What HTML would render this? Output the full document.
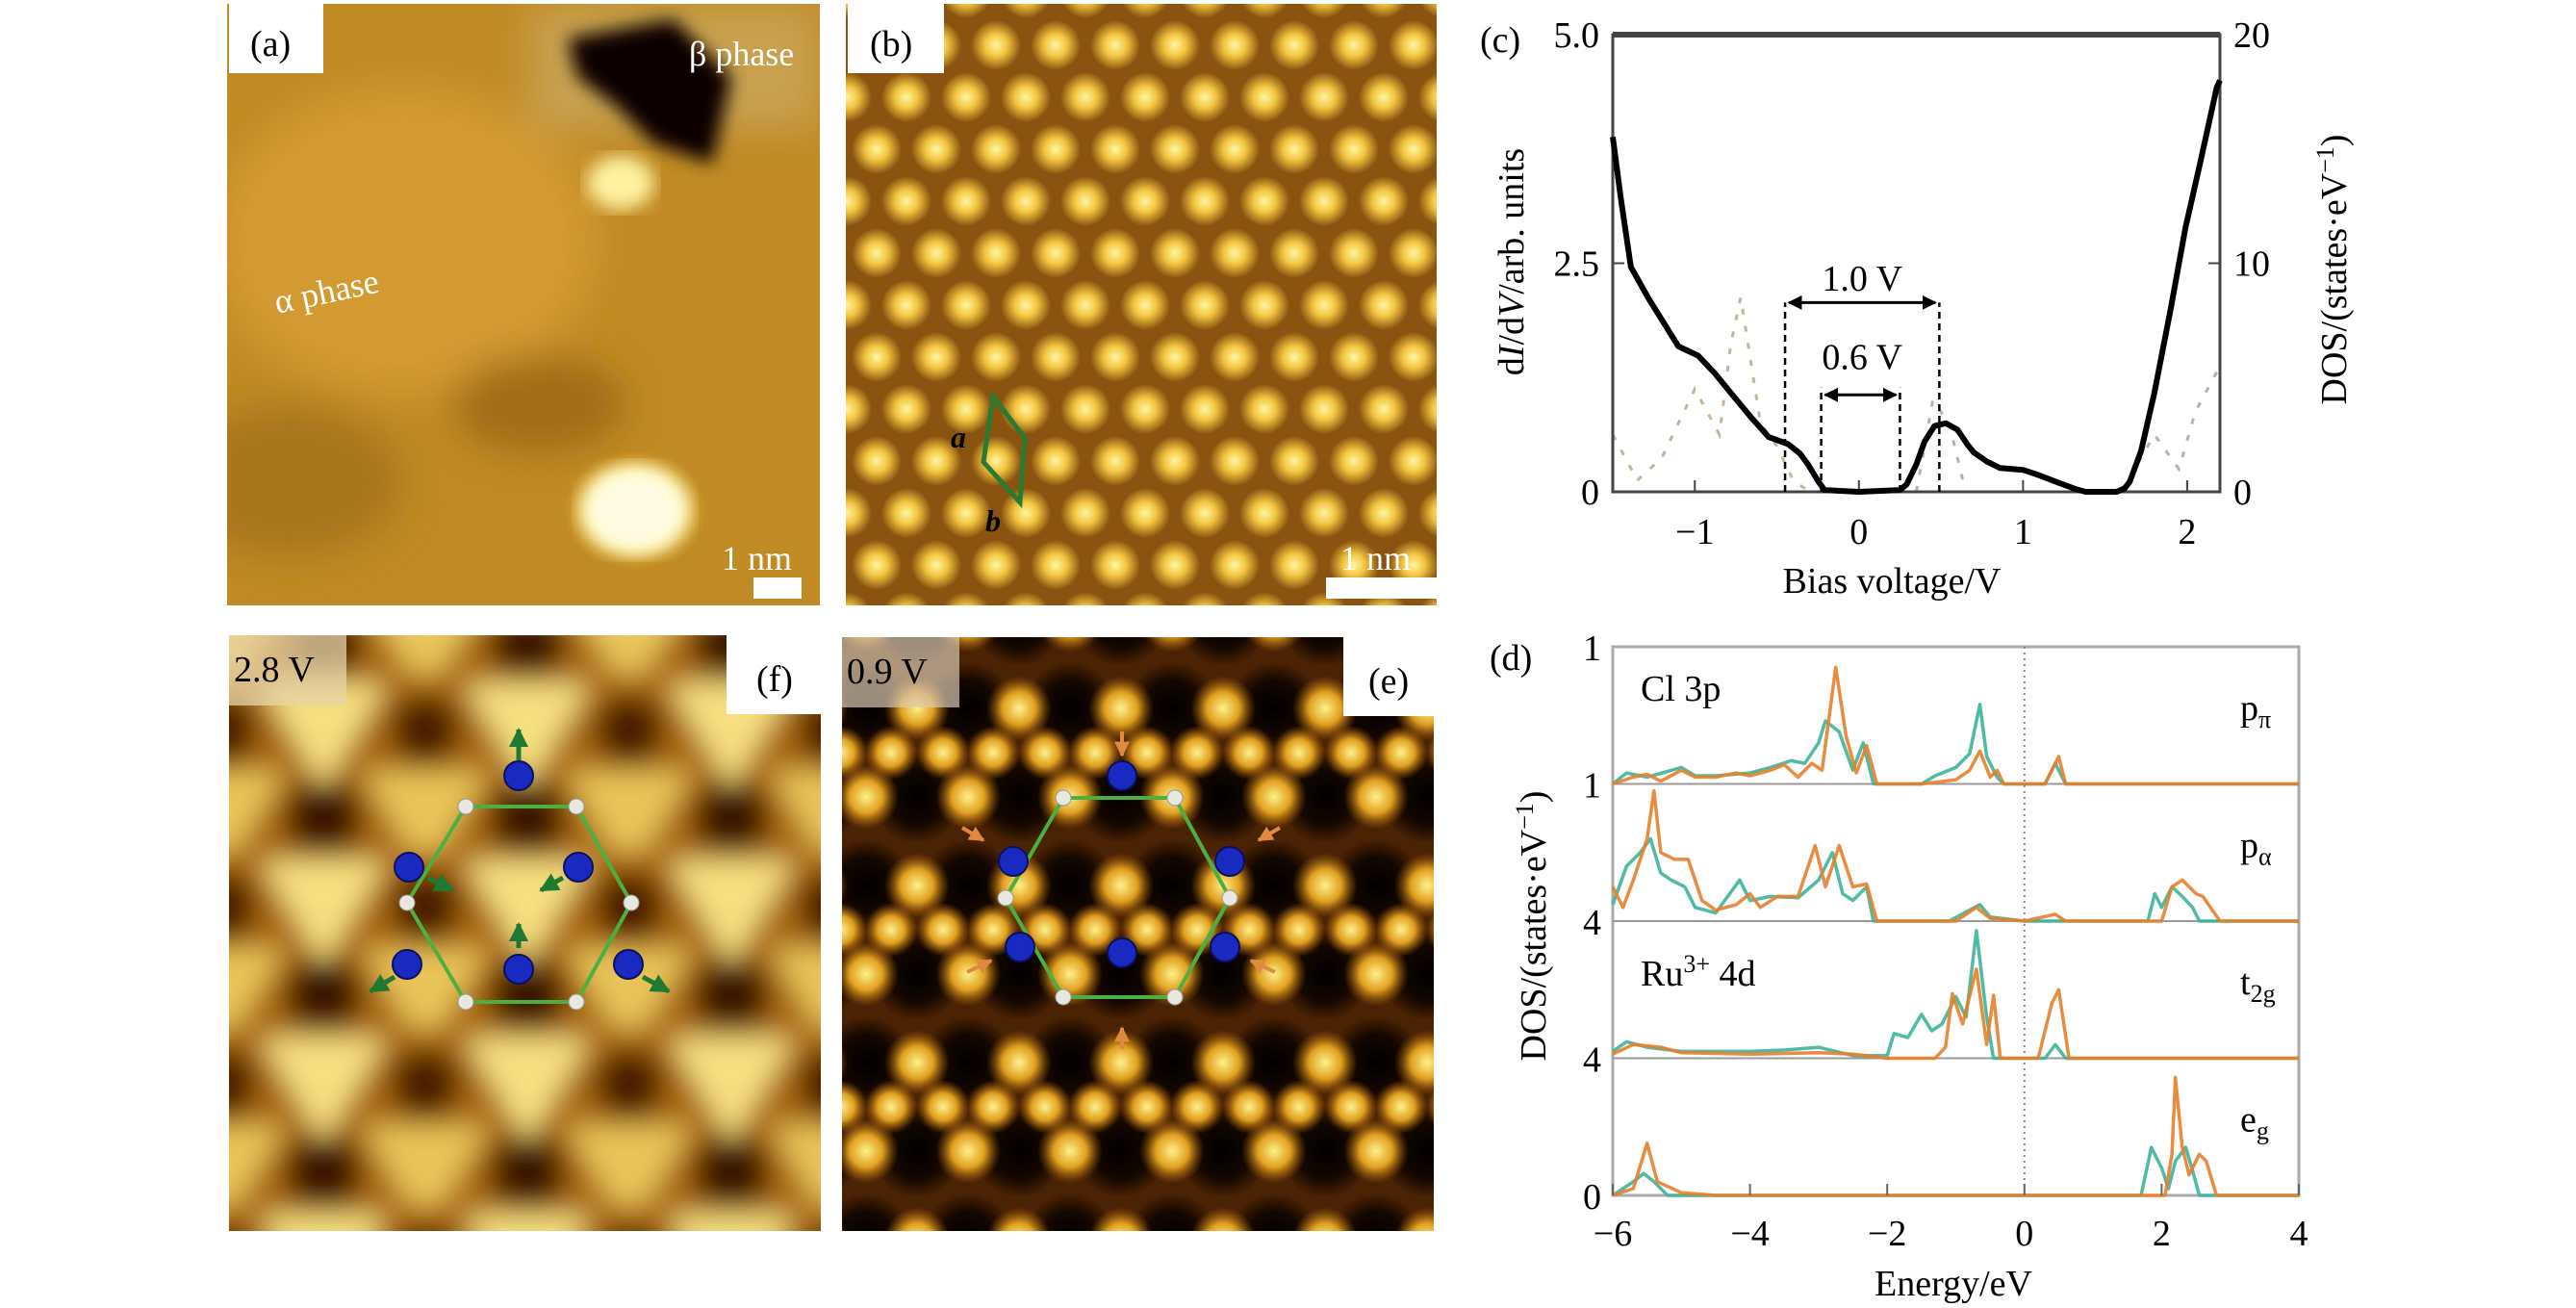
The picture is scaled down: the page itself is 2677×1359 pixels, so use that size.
<!DOCTYPE html>
<html><head><meta charset="utf-8">
<style>
html,body{margin:0;padding:0;background:#fff;}
svg, svg text{font-family:"Liberation Serif","DejaVu Serif",serif;}
</style></head>
<body>
<svg id="fig" width="2677" height="1354" viewBox="0 0 2677 1354" xmlns="http://www.w3.org/2000/svg" font-family="Liberation Serif, serif">
<defs>
  <radialGradient id="dotY" cx="50%" cy="50%" r="50%">
    <stop offset="0" stop-color="#fff6a0"/><stop offset="0.45" stop-color="#f2c440"/><stop offset="1" stop-color="#f2c440" stop-opacity="0"/>
  </radialGradient>
  <radialGradient id="dotE" cx="50%" cy="50%" r="50%">
    <stop offset="0" stop-color="#fff08a"/><stop offset="0.5" stop-color="#e0a020"/><stop offset="1" stop-color="#a05a08" stop-opacity="0"/>
  </radialGradient>
  <radialGradient id="holeE" cx="50%" cy="50%" r="50%">
    <stop offset="0" stop-color="#000"/><stop offset="0.6" stop-color="#140700"/><stop offset="1" stop-color="#140700" stop-opacity="0"/>
  </radialGradient>
  <radialGradient id="brightA" cx="50%" cy="50%" r="50%">
    <stop offset="0" stop-color="#fffde0"/><stop offset="0.55" stop-color="#fff070"/><stop offset="1" stop-color="#e8b840" stop-opacity="0"/>
  </radialGradient>
  <pattern id="latB" width="62" height="108" patternUnits="userSpaceOnUse" x="880" y="20">
    <rect width="62" height="108" fill="#8a5410"/>
    <circle cx="31" cy="27" r="26" fill="url(#dotY)"/>
    <circle cx="0" cy="81" r="26" fill="url(#dotY)"/>
    <circle cx="62" cy="81" r="26" fill="url(#dotY)"/>
  </pattern>
  <pattern id="latE" width="106" height="184" patternUnits="userSpaceOnUse" x="900" y="690">
    <rect width="106" height="184" fill="#4a2204"/>
    <circle cx="53" cy="138" r="48" fill="url(#holeE)"/>
    <circle cx="0" cy="46" r="48" fill="url(#holeE)"/>
    <circle cx="106" cy="46" r="48" fill="url(#holeE)"/>
    <circle cx="53" cy="46" r="34" fill="url(#dotE)"/>
    <circle cx="0" cy="138" r="34" fill="url(#dotE)"/>
    <circle cx="106" cy="138" r="34" fill="url(#dotE)"/>
    <circle cx="26" cy="92" r="28" fill="url(#dotE)"/>
    <circle cx="80" cy="92" r="28" fill="url(#dotE)"/>
  </pattern>
  <filter id="blur8"><feGaussianBlur stdDeviation="9"/></filter>
  <filter id="blur14"><feGaussianBlur stdDeviation="14"/></filter>
  <filter id="blur20"><feGaussianBlur stdDeviation="20"/></filter>
  <pattern id="latF" width="212" height="184" patternUnits="userSpaceOnUse" x="230" y="700">
    <rect width="212" height="184" fill="#a8680e"/>
    <circle cx="106" cy="150" r="40" fill="#3a1602"/>
    <circle cx="0" cy="58" r="36" fill="#4a1e04"/>
    <circle cx="212" cy="58" r="36" fill="#4a1e04"/>
    <polygon points="40,10 172,10 106,120" fill="#f6e080"/>
    <polygon points="-66,102 66,102 0,212" fill="#e8c458"/>
    <polygon points="146,102 278,102 212,212" fill="#e8c458"/>
  </pattern>
  <marker id="arrK" viewBox="0 0 10 10" refX="9" refY="5" markerWidth="5" markerHeight="5" orient="auto-start-reverse"><path d="M0,0 L10,5 L0,10 z" fill="#000"/></marker>
  <marker id="arrG" viewBox="0 0 10 10" refX="9" refY="5" markerWidth="4" markerHeight="4" orient="auto"><path d="M0,0 L10,5 L0,10 z" fill="#1e7a30"/></marker>
  <marker id="arrO" viewBox="0 0 10 10" refX="9" refY="5" markerWidth="4" markerHeight="4" orient="auto"><path d="M0,0 L10,5 L0,10 z" fill="#e08a40"/></marker>
  <clipPath id="clipA"><rect x="236" y="4" width="616" height="625"/></clipPath>
  <clipPath id="clipF"><rect x="238" y="660" width="615" height="619"/></clipPath>
  <clipPath id="clipE"><rect x="875" y="662" width="615" height="617"/></clipPath>
</defs>

<!-- Panel (a) -->
<g clip-path="url(#clipA)">
  <rect x="236" y="4" width="616" height="625" fill="#c08a24"/>
  <g filter="url(#blur20)">
    <ellipse cx="420" cy="250" rx="200" ry="160" fill="#d49a30"/>
    <ellipse cx="300" cy="500" rx="120" ry="80" fill="#a8761c"/>
    <ellipse cx="560" cy="420" rx="90" ry="50" fill="#a06c18"/>
    <rect x="550" y="4" width="302" height="130" fill="#c8a050"/>
  </g>
  <path d="M590,40 L700,20 L760,80 L740,170 L680,150 L640,110 L600,80 Z" fill="#100400" filter="url(#blur8)"/>
  <ellipse cx="645" cy="190" rx="35" ry="28" fill="#fff2a0" filter="url(#blur8)"/>
  <ellipse cx="660" cy="530" rx="75" ry="62" fill="url(#brightA)"/>
  <ellipse cx="660" cy="530" rx="55" ry="45" fill="#fffbe0" filter="url(#blur8)"/>
</g>
<rect x="238" y="4" width="98" height="72" fill="#fff"/>
<text x="260" y="58" font-size="38">(a)</text>
<text x="716" y="68" font-size="36" fill="#fff">β phase</text>
<text x="288" y="326" font-size="36" fill="#fff" transform="rotate(-12 288 326)">α phase</text>
<text x="750" y="592" font-size="36" fill="#fff">1 nm</text>
<rect x="783" y="600" width="50" height="22" fill="#fff"/>

<!-- Panel (b) -->
<rect x="879" y="4" width="614" height="625" fill="url(#latB)"/>
<rect x="881" y="4" width="100" height="72" fill="#fff"/>
<text x="904" y="58" font-size="38">(b)</text>
<polygon points="1032,412 1065,455 1060,522 1022,480" fill="none" stroke="#2a7a30" stroke-width="5"/>
<text x="988" y="465" font-size="32" font-weight="bold" font-style="italic">a</text>
<text x="1024" y="552" font-size="32" font-weight="bold" font-style="italic">b</text>
<text x="1393" y="592" font-size="36" fill="#fff">1 nm</text>
<rect x="1378" y="600" width="118" height="22" fill="#fff"/>

<!-- Panel (f) -->
<g clip-path="url(#clipF)">
  <rect x="200" y="640" width="700" height="680" fill="url(#latF)" filter="url(#blur14)"/>
</g>
<rect x="238" y="660" width="122" height="73" fill="#e8d4a8" opacity="0.75"/>
<text x="243" y="708" font-size="38">2.8 V</text>
<rect x="755" y="660" width="98" height="82" fill="#fff"/>
<text x="786" y="718" font-size="38">(f)</text>
<g>
  <polygon points="484,838 599,838 656,938 599,1041 484,1041 423,938" fill="none" stroke="#4cb040" stroke-width="4"/>
  <g fill="#e8e8e0" stroke="#999" stroke-width="1">
    <circle cx="484" cy="838" r="8"/><circle cx="599" cy="838" r="8"/><circle cx="656" cy="938" r="8"/>
    <circle cx="599" cy="1041" r="8"/><circle cx="484" cy="1041" r="8"/><circle cx="423" cy="938" r="8"/>
  </g>
  <g stroke="#1e7a30" stroke-width="5" marker-end="url(#arrG)">
    <line x1="539" y1="790" x2="539" y2="758"/>
    <line x1="445" y1="912" x2="470" y2="925"/>
    <line x1="585" y1="912" x2="562" y2="925"/>
    <line x1="539" y1="985" x2="539" y2="960"/>
    <line x1="410" y1="1015" x2="385" y2="1030"/>
    <line x1="668" y1="1015" x2="695" y2="1030"/>
  </g>
  <g fill="#1a2ac0" stroke="#0a1060" stroke-width="2">
    <circle cx="539" cy="806" r="15"/><circle cx="425" cy="901" r="15"/><circle cx="601" cy="901" r="15"/>
    <circle cx="539" cy="1007" r="15"/><circle cx="423" cy="1002" r="15"/><circle cx="653" cy="1002" r="15"/>
  </g>
</g>

<!-- Panel (e) -->
<g clip-path="url(#clipE)">
  <rect x="875" y="662" width="615" height="617" fill="url(#latE)"/>
</g>
<rect x="875" y="662" width="122" height="73" fill="#d8c8b0" opacity="0.7"/>
<text x="880" y="710" font-size="38">0.9 V</text>
<rect x="1396" y="662" width="94" height="82" fill="#fff"/>
<text x="1422" y="720" font-size="38">(e)</text>
<g>
  <polygon points="1105,829 1221,829 1278,933 1221,1036 1105,1036 1045,933" fill="none" stroke="#4cb040" stroke-width="4"/>
  <g fill="#e8e8e0" stroke="#999" stroke-width="1">
    <circle cx="1105" cy="829" r="8"/><circle cx="1221" cy="829" r="8"/><circle cx="1278" cy="933" r="8"/>
    <circle cx="1221" cy="1036" r="8"/><circle cx="1105" cy="1036" r="8"/><circle cx="1045" cy="933" r="8"/>
  </g>
  <g stroke="#e08a40" stroke-width="4" marker-end="url(#arrO)">
    <line x1="1166" y1="760" x2="1166" y2="785"/>
    <line x1="1000" y1="860" x2="1022" y2="873"/>
    <line x1="1330" y1="860" x2="1308" y2="873"/>
    <line x1="1166" y1="1090" x2="1166" y2="1068"/>
    <line x1="1005" y1="1010" x2="1030" y2="998"/>
    <line x1="1325" y1="1010" x2="1300" y2="998"/>
  </g>
  <g fill="#1a2ac0" stroke="#0a1060" stroke-width="2">
    <circle cx="1166" cy="806" r="15"/><circle cx="1053" cy="895" r="15"/><circle cx="1278" cy="895" r="15"/>
    <circle cx="1166" cy="990" r="15"/><circle cx="1060" cy="984" r="15"/><circle cx="1273" cy="984" r="15"/>
  </g>
</g>

<!-- Panel (c) -->
<g id="chartC"></g>
<!-- Panel (d) -->
<g id="chartD"></g>
</svg>

<script>
// ---------- Panel (c) data ----------
const stsBias = [-1.5,-1.45,-1.39,-1.28,-1.18,-1.1,-0.98,-0.88,-0.78,-0.66,-0.55,-0.43,-0.36,-0.31,-0.25,-0.21,0.0,0.25,0.29,0.35,0.4,0.46,0.53,0.6,0.66,0.7,0.78,0.86,1.0,1.1,1.23,1.32,1.38,1.57,1.62,1.65,1.72,1.8,1.9,1.99,2.08,2.18,2.2];
const stsValue = [3.88,3.2,2.46,2.11,1.82,1.59,1.49,1.3,1.08,0.82,0.60,0.52,0.42,0.30,0.12,0.02,0.0,0.02,0.08,0.3,0.55,0.72,0.75,0.68,0.52,0.43,0.33,0.26,0.24,0.18,0.09,0.03,0.0,0.0,0.04,0.11,0.45,1.08,2.0,2.89,3.6,4.42,4.5];
const dosCBias1 = [-1.5,-1.35,-1.2,-1.0,-0.85,-0.78,-0.72,-0.6,-0.5,-0.4,-0.3];
const dosCValue1 = [2.5,0.5,1.5,4.5,2.5,6.5,8.5,3.0,2.0,0.5,0];
const dosCBias2 = [0.35,0.45,0.55,0.65,1.6,1.8,1.95,2.05,2.2];
const dosCValue2 = [0,4,3,0,0,2.5,1.0,3.5,5.5];
const cXTicks = [-1,0,1,2];
const cXTickLabels = ["\u22121","0","1","2"];
const cYTicks = [0,2.5,5.0];
const cYTickLabels = ["0","2.5","5.0"];
const cY2Ticks = [0,10,20];
const cY2TickLabels = ["0","10","20"];
const gapOuter = [-0.45,0.49];
const gapInner = [-0.23,0.25];

// ---------- Panel (d) data ----------
const dXTicks = [-6,-4,-2,0,2,4];
const dXTickLabels = ["\u22126","\u22124","\u22122","0","2","4"];
const dYLabels = ["1","1","4","4","0"];
const pPiE_or = [-6,-5.7,-5.5,-5.3,-5.0,-4.8,-4.5,-4.2,-4,-3.7,-3.5,-3.3,-3.1,-2.95,-2.75,-2.6,-2.45,-2.3,-2.15,-1.5,-1.0,-0.8,-0.65,-0.5,-0.4,-0.3,0.3,0.5,0.6,4];
const pPiV_or = [0,0.05,0.07,0.02,0.1,0.05,0.05,0.08,0.06,0.1,0.14,0.05,0.15,0.1,0.85,0.35,0.08,0.28,0,0,0.03,0.1,0.24,0.05,0.1,0,0,0.2,0,0];
const pPiE_te = [-6,-5.8,-5.5,-5.0,-4.8,-4.5,-4,-3.7,-3.4,-3.2,-3.0,-2.9,-2.7,-2.5,-2.35,-2.2,-1.5,-1.3,-1.0,-0.8,-0.65,-0.55,-0.4,-0.3,0.3,0.45,0.6,4];
const pPiV_te = [0,0.08,0.05,0.12,0.06,0.06,0.08,0.12,0.17,0.15,0.3,0.46,0.38,0.1,0.3,0,0,0.06,0.12,0.22,0.58,0.2,0.05,0,0,0.15,0,0];
const pAlE_or = [-6,-5.85,-5.7,-5.5,-5.4,-5.3,-5.1,-4.9,-4.7,-4.5,-4.2,-4.0,-3.85,-3.6,-3.3,-3.05,-2.9,-2.7,-2.5,-2.3,-2.15,-1,-0.7,-0.5,0,0.45,0.6,2.0,2.15,2.3,2.5,2.6,2.85,4];
const pAlV_or = [0.25,0.1,0.3,0.6,0.95,0.5,0.45,0.45,0.15,0.08,0.12,0.2,0.1,0.18,0.18,0.55,0.25,0.55,0.25,0.27,0,0,0.1,0.02,0,0.05,0,0,0.25,0.3,0.2,0.18,0,0];
const pAlE_te = [-6,-5.8,-5.6,-5.45,-5.3,-5.15,-4.95,-4.8,-4.5,-4.15,-4,-3.7,-3.3,-3.0,-2.8,-2.65,-2.5,-2.3,-2.2,-1.1,-0.8,-0.65,-0.5,0,1.8,1.9,2.0,2.15,2.3,2.45,2.55,4];
const pAlV_te = [0.12,0.4,0.5,0.6,0.35,0.3,0.25,0.1,0.06,0.3,0.15,0.18,0.17,0.3,0.5,0.2,0.15,0.25,0,0,0.08,0.12,0.03,0,0,0.2,0.1,0.25,0.18,0.1,0,0];
const t2gE_te = [-6,-5.8,-5.5,-5,-4,-3.5,-3,-2.5,-2,-1.9,-1.7,-1.5,-1.35,-1.2,-1.0,-0.85,-0.7,-0.55,-0.45,0.3,0.45,0.6,4];
const t2gV_te = [0.05,0.12,0.08,0.05,0.05,0.06,0.08,0.02,0.02,0.18,0.15,0.32,0.2,0.25,0.45,0.3,0.93,0.3,0,0,0.1,0,0];
const t2gE_or = [-6,-5.7,-5.3,-5,-4,-3,-2.5,-2,-1.3,-1.15,-1.05,-0.9,-0.7,-0.55,-0.45,-0.35,0.2,0.4,0.5,0.65,4];
const t2gV_or = [0.03,0.1,0.08,0.04,0.03,0.04,0.03,0,0,0.08,0.47,0.25,0.65,0.1,0.46,0,0,0.4,0.5,0,0];
const egE_or = [-6,-5.7,-5.5,-5.35,-5,-4.5,2.05,2.15,2.2,2.3,2.4,2.55,2.65,2.8,4];
const egV_or = [0,0.05,0.38,0.1,0.02,0,0,0.3,0.86,0.35,0.15,0.3,0.25,0,0];
const egE_te = [-6,-5.7,-5.55,-5.4,-5.2,1.7,1.85,2.0,2.1,2.2,2.35,2.45,2.55,4];
const egV_te = [0,0.1,0.16,0.1,0,0,0.35,0.2,0.05,0.25,0.35,0.18,0,0];
const orbitalLabels = ["p\u03c0","p\u03b1","t2g","eg"];

const NS = "http://www.w3.org/2000/svg";
function mk(parent, tag, attrs, text) {
  const el = document.createElementNS(NS, tag);
  for (const k in attrs) el.setAttribute(k, attrs[k]);
  if (text !== undefined) el.textContent = text;
  parent.appendChild(el);
  return el;
}

// ----- Chart C -----
(function(){
  const g = document.getElementById('chartC');
  const L=1676,R=2307,T=36,B=511;
  const xS = v => L + (v + 1.5) / 3.7 * (R - L);
  const yS = v => B - v / 5 * (B - T);
  const y2S = v => B - v / 20 * (B - T);
  let d1 = dosCBias1.map((v,i)=>(i?'L':'M')+xS(v)+','+y2S(dosCValue1[i])).join(' ');
  let p1 = mk(g,'path',{d:d1,fill:'none',stroke:'#b8a080','stroke-width':3,'stroke-dasharray':'6 12',opacity:0.8});
  
  
  let d2 = dosCBias2.map((v,i)=>(i?'L':'M')+xS(v)+','+y2S(dosCValue2[i])).join(' ');
  let p2 = mk(g,'path',{d:d2,fill:'none',stroke:'#90a8a0','stroke-width':3,'stroke-dasharray':'6 12',opacity:0.8});
  
  
  let fr = mk(g,'rect',{x:L,y:T,width:R-L,height:B-T,fill:'none',stroke:'#444','stroke-width':3});
  
  
  mk(g,'line',{x1:L,y1:T,x2:R,y2:T,stroke:'#444','stroke-width':6});
  cXTicks.forEach((v,i)=>{
    mk(g,'line',{x1:xS(v),y1:B,x2:xS(v),y2:B-12,stroke:'#444','stroke-width':2});
    let t = mk(g,'text',{x:xS(v),y:B+54,'font-size':38,'text-anchor':'middle'},cXTickLabels[i]);
    
    
  });
  cYTicks.forEach((v,i)=>{
    mk(g,'line',{x1:L,y1:yS(v),x2:L+12,y2:yS(v),stroke:'#444','stroke-width':2});
    let t = mk(g,'text',{x:L-14,y:yS(v)+13,'font-size':38,'text-anchor':'end'},cYTickLabels[i]);
    
    
  });
  cY2Ticks.forEach((v,i)=>{
    mk(g,'line',{x1:R,y1:y2S(v),x2:R-12,y2:y2S(v),stroke:'#444','stroke-width':2});
    let t = mk(g,'text',{x:R+14,y:y2S(v)+13,'font-size':38,'text-anchor':'start'},cY2TickLabels[i]);
    
    
  });
  [[gapOuter,2.07,2.07],[gapInner,1.06,1.14]].forEach(([gp,yv,topv],k)=>{
    gp.forEach(v=>{
      let l = mk(g,'line',{x1:xS(v),y1:yS(0),x2:xS(v),y2:yS(topv),stroke:'#000','stroke-width':2.5,'stroke-dasharray':'7 5'});
      
      
    });
    let a = mk(g,'line',{x1:xS(gp[0])+4,y1:yS(yv),x2:xS(gp[1])-4,y2:yS(yv),stroke:'#000','stroke-width':3,'marker-start':'url(#arrK)','marker-end':'url(#arrK)'});
    
    
  });
  let g1 = mk(g,'text',{x:xS(0.02),y:yS(2.35)+14,'font-size':38,'text-anchor':'middle'},'1.0 V');
  
  
  let g2 = mk(g,'text',{x:xS(0.02),y:yS(1.49)+14,'font-size':38,'text-anchor':'middle'},'0.6 V');
  
  
  let d = stsBias.map((v,i)=>(i?'L':'M')+xS(v).toFixed(1)+','+yS(stsValue[i]).toFixed(1)).join(' ');
  let c = mk(g,'path',{d:d,fill:'none',stroke:'#000','stroke-width':6,'stroke-linejoin':'round'});
  
  
  let pl = mk(g,'text',{x:1538,y:54,'font-size':38},'(c)');
  
  
  let xt = mk(g,'text',{x:1966,y:616,'font-size':38,'text-anchor':'middle'},'Bias voltage/V');
  
  
  let yt = mk(g,'text',{x:0,y:0,'font-size':38,'text-anchor':'middle',transform:'translate(1583,272) rotate(-90)'});
  yt.innerHTML = 'd<tspan font-style="italic">I</tspan>/d<tspan font-style="italic">V</tspan>/arb. units';
  
  
  let y2t = mk(g,'text',{x:0,y:0,'font-size':38,'text-anchor':'middle',transform:'translate(2438,280) rotate(-90)'});
  y2t.innerHTML = 'DOS/(states·eV<tspan dy="-13" font-size="26">\u22121</tspan><tspan dy="13">)</tspan>';
  
  
})();

// ----- Chart D -----
(function(){
  const g = document.getElementById('chartD');
  const L=1676,R=2389,T=672,B=1242;
  const ph = (B-T)/4;
  const xS = e => L + (e + 6) / 10 * (R - L);
  const yS = (k,v) => T + (k+1)*ph - v*ph;
  let fr = mk(g,'rect',{x:L,y:T,width:R-L,height:B-T,fill:'none',stroke:'#aaa','stroke-width':3});
  
  
  for (let k=1;k<4;k++) mk(g,'line',{x1:L,y1:T+k*ph,x2:R,y2:T+k*ph,stroke:'#999','stroke-width':2});
  let z = mk(g,'line',{x1:xS(0),y1:T,x2:xS(0),y2:B,stroke:'#888','stroke-width':2,'stroke-dasharray':'2 4'});
  
  
  const series = [
    [0,pPiE_te,pPiV_te,'#3cb49a','ppi-teal'],[0,pPiE_or,pPiV_or,'#e8802a','ppi-orange'],
    [1,pAlE_te,pAlV_te,'#3cb49a','palpha-teal'],[1,pAlE_or,pAlV_or,'#e8802a','palpha-orange'],
    [2,t2gE_te,t2gV_te,'#3cb49a','t2g-teal'],[2,t2gE_or,t2gV_or,'#e8802a','t2g-orange'],
    [3,egE_te,egV_te,'#3cb49a','eg-teal'],[3,egE_or,egV_or,'#e8802a','eg-orange']];
  series.forEach(([k,E,V,col,nm])=>{
    let d = E.map((e,i)=>(i?'L':'M')+xS(e).toFixed(1)+','+yS(k,V[i]).toFixed(1)).join(' ');
    let p = mk(g,'path',{d:d,fill:'none',stroke:col,'stroke-width':3.5,'stroke-linejoin':'round',opacity:0.9});
    
    
  });
  dXTicks.forEach((v,i)=>{
    mk(g,'line',{x1:xS(v),y1:B,x2:xS(v),y2:B-12,stroke:'#666','stroke-width':2});
    let t = mk(g,'text',{x:xS(v),y:B+52,'font-size':38,'text-anchor':'middle'},dXTickLabels[i]);
    
    
  });
  dYLabels.forEach((s,i)=>{
    let t = mk(g,'text',{x:1664,y:T+i*ph+14,'font-size':38,'text-anchor':'end'},s);
    
    
  });
  orbitalLabels.forEach((s,i)=>{
    let t = mk(g,'text',{x:2328,y:T+i*ph+76,'font-size':38});
    t.innerHTML = s[0] + '<tspan font-size="26" dy="8">' + s.slice(1) + '</tspan>';
    
    
  });
  let cl = mk(g,'text',{x:1705,y:728,'font-size':38},'Cl  3p');
  
  
  let ru = mk(g,'text',{x:1705,y:1024,'font-size':38});
  ru.innerHTML = 'Ru<tspan dy="-14" font-size="26">3+</tspan><tspan dy="14"> 4d</tspan>';
  
  
  let pl = mk(g,'text',{x:1548,y:696,'font-size':38},'(d)');
  
  
  let xt = mk(g,'text',{x:2030,y:1346,'font-size':38,'text-anchor':'middle'},'Energy/eV');
  
  
  let yt = mk(g,'text',{x:0,y:0,'font-size':38,'text-anchor':'middle',transform:'translate(1606,962) rotate(-90)'});
  yt.innerHTML = 'DOS/(states·eV<tspan dy="-13" font-size="26">\u22121</tspan><tspan dy="13">)</tspan>';
  
  
})();
</script>
</body></html>
